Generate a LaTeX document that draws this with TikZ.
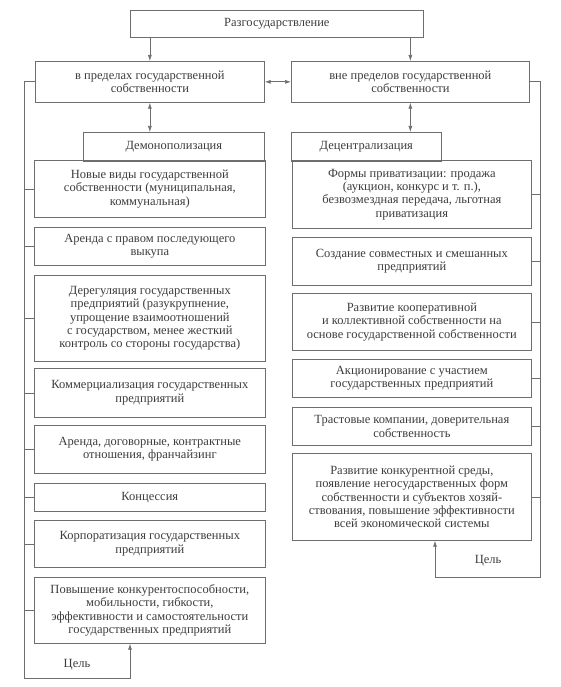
\documentclass[tikz,border=0pt]{standalone}
\usepackage{fontspec}
\setmainfont{Liberation Serif}
\usetikzlibrary{arrows.meta}
\definecolor{linec}{HTML}{6E6E6E}
\definecolor{textc}{HTML}{3C3C3C}
\begin{document}
\begin{tikzpicture}[x=1pt,y=-1pt,
 box/.style={draw=linec, line width=0.7pt, text=textc, align=center, inner sep=1pt, anchor=north west, font=\fontsize{12.5}{13.3}\selectfont},
 lbl/.style={text=textc, font=\fontsize{12.5}{13.3}\selectfont},
 conn/.style={draw=linec, line width=0.7pt},
 arr/.style={conn, -{Latex[length=6pt,width=4pt]}},
 darr/.style={conn, {Latex[length=6pt,width=4pt]}-{Latex[length=6pt,width=4pt]}}]
\useasboundingbox (0,0) rectangle (561,687);
\node[box, minimum width=293, minimum height=27.5] (T) at (130,10) {Разгосударствление};
\node[box, minimum width=229, minimum height=41] (L) at (35,61) {в пределах государственной\\собственности};
\node[box, minimum width=238, minimum height=41] (R) at (291,61) {вне пределов государственной\\собственности};
\node[box, minimum width=181, minimum height=29] (D) at (83,132) {Демонополизация};
\node[box, minimum width=150, minimum height=29] (C) at (291,132) {Децентрализация};
% left column
\node[box, minimum width=231, minimum height=57] (B1) at (34,160) {Новые виды государственной\\собственности (муниципальная,\\коммунальная)};
\node[box, minimum width=231, minimum height=38] (B2) at (34,227) {Аренда с правом последующего\\выкупа};
\node[box, minimum width=231, minimum height=86] (B3) at (34,275) {Дерегуляция государственных\\предприятий (разукрупнение,\\упрощение взаимоотношений\\с государством, менее жесткий\\контроль со стороны государства)};
\node[box, minimum width=231, minimum height=49] (B4) at (34,368) {Коммерциализация государственных\\предприятий};
\node[box, minimum width=231, minimum height=48] (B5) at (34,425) {Аренда, договорные, контрактные\\отношения, франчайзинг};
\node[box, minimum width=231, minimum height=28] (B6) at (34,483) {Концессия};
\node[box, minimum width=231, minimum height=47] (B7) at (34,520) {Корпоратизация государственных\\предприятий};
\node[box, minimum width=231, minimum height=66] (B8) at (34,577) {Повышение конкурентоспособности,\\мобильности, гибкости,\\эффективности и самостоятельности\\государственных предприятий};
% right column
\node[box, minimum width=239, minimum height=68] (R1) at (292,160) {Формы приватизации: продажа\\(аукцион, конкурс и т. п.),\\безвозмездная передача, льготная\\приватизация};
\node[box, minimum width=239, minimum height=48] (R2) at (292,237) {Создание совместных и смешанных\\предприятий};
\node[box, minimum width=239, minimum height=57] (R3) at (292,293) {Развитие кооперативной\\и коллективной собственности на\\основе государственной собственности};
\node[box, minimum width=239, minimum height=38] (R4) at (292,359) {Акционирование с участием\\государственных предприятий};
\node[box, minimum width=239, minimum height=38] (R5) at (292,407) {Трастовые компании, доверительная\\собственность};
\node[box, minimum width=239, minimum height=87] (R6) at (292,453) {Развитие конкурентной среды,\\появление негосударственных форм\\собственности и субъектов хозяй-\\ствования, повышение эффективности\\всей экономической системы};
% labels
\node[lbl] (g1) at (77,665) {Цель};
\node[lbl] (g2) at (488,561) {Цель};
% connectors
\draw[arr] (T.south -| L.north) -- (L.north);
\draw[arr] (T.south -| R.north) -- (R.north);
\draw[darr] (L.east) -- (R.west);
\draw[darr] (L.south) -- (L.south |- D.north);
\draw[darr] (R.south) -- (R.south |- C.north);
\coordinate (lb) at (24,678);
\coordinate (lg) at (130,678);
\coordinate (rb) at (540,577);
\coordinate (rg) at (435,577);
\draw[arr] (L.west) -- (L.west -| lb) -- (lb) -- (lg) -- (lg |- B8.south);
\draw[arr] (R.east) -- (R.east -| rb) -- (rb) -- (rg) -- (rg |- R6.south);
\foreach \b in {B1,B2,B3,B4,B5,B6,B7,B8} \draw[conn] (\b.west) -- (\b.west -| lb);
\foreach \b in {R1,R2,R3,R4,R5,R6} \draw[conn] (\b.east) -- (\b.east -| rb);
\end{tikzpicture}
\end{document}
